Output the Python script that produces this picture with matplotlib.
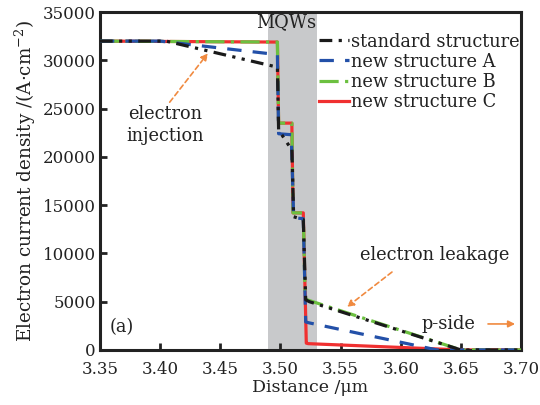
import matplotlib
matplotlib.use("Agg")
import matplotlib.pyplot as plt

plt.rcParams['font.family'] = ['DejaVu Serif']
plt.rcParams['mathtext.fontset'] = 'dejavuserif'

# Data
x_std = [3.35, 3.405, 3.4975, 3.4985, 3.508, 3.5095, 3.511, 3.519, 3.521, 3.524, 3.65, 3.70]
y_std = [32000, 32000, 29300, 22800, 21000, 21000, 13800, 13500, 5200, 5000, 0, 0]

x_a = [3.35, 3.40, 3.4975, 3.4985, 3.509, 3.511, 3.519, 3.521, 3.524, 3.63, 3.70]
y_a = [32000, 32000, 30600, 22400, 22300, 13700, 13600, 2900, 2800, 0, 0]

x_b = [3.35, 3.4975, 3.4985, 3.5095, 3.5105, 3.519, 3.5205, 3.522, 3.65, 3.70]
y_b = [32000, 31900, 23500, 23500, 14200, 14200, 5400, 5200, 0, 0]

x_c = [3.35, 3.4975, 3.4985, 3.5095, 3.5105, 3.519, 3.5215, 3.523, 3.65, 3.70]
y_c = [32000, 31900, 23500, 23500, 14200, 14200, 700, 650, 0, 0]

labels = ["standard structure", "new structure A", "new structure B", "new structure C"]
mqw_range = (3.49, 3.53)
xticks = [3.35, 3.40, 3.45, 3.50, 3.55, 3.60, 3.65, 3.70]
xtick_labels = ["3.35", "3.40", "3.45", "3.50", "3.55", "3.60", "3.65", "3.70"]
yticks = [0, 5000, 10000, 15000, 20000, 25000, 30000, 35000]
ytick_labels = ["0", "5000", "10000", "15000", "20000", "25000", "30000", "35000"]

fig = plt.figure(figsize=(5.4, 4.05), dpi=100)
ax = fig.add_axes([0.185, 0.136, 0.780, 0.834])

ax.axvspan(mqw_range[0], mqw_range[1], color='#c8c9cb', zorder=0, lw=0)

lw = 2.3
l1, = ax.plot(x_std, y_std, color='#1a1a1a', lw=lw, ls=(0, (4, 2, 1, 2, 1, 2)), zorder=5, label=labels[0])
l2, = ax.plot(x_a, y_a, color='#2350a8', lw=lw, ls=(0, (4.5, 3.5)), zorder=4, label=labels[1])
l3, = ax.plot(x_b, y_b, color='#6cc040', lw=lw, ls=(0, (6, 2, 1, 2)), zorder=3, label=labels[2])
l4, = ax.plot(x_c, y_c, color='#f03030', lw=lw, ls='-', zorder=2, label=labels[3])

ax.set_xlim(3.35, 3.70)
ax.set_ylim(0, 35000)
ax.set_xticks(xticks)
ax.set_xticklabels(xtick_labels)
ax.set_yticks(yticks)
ax.set_yticklabels(ytick_labels)
ax.tick_params(direction='in', length=5, width=2, labelsize=12, colors='#222222', pad=3)
ax.tick_params(axis='x', pad=8)
for s in ax.spines.values():
    s.set_linewidth(2.2)
    s.set_color('#222222')

ax.set_xlabel('Distance /μm', fontsize=12.5, color='#222222', labelpad=1)
ax.set_ylabel('Electron current density /(A·cm$^{-2}$)', fontsize=13.2, color='#222222', labelpad=3)

leg = ax.legend(handles=[l1, l2, l3, l4], loc='upper right', bbox_to_anchor=(1.0, 0.945),
                frameon=False, fontsize=12.8, handlelength=1.7, handletextpad=0.1,
                labelspacing=0.12, borderpad=0.1, borderaxespad=0.0)
for t in leg.get_texts():
    t.set_color('#222222')

orange = '#f08a40'
fs = 12.8
ax.text(3.5046, 33950, 'MQWs', ha='center', va='center', fontsize=fs, color='#222222')
ax.text(3.404, 23300, 'electron\ninjection', ha='center', va='center', fontsize=fs,
        color='#222222', linespacing=1.25)
ax.annotate('', xy=(3.4398, 30740), xytext=(3.408, 25670),
            arrowprops=dict(arrowstyle='-|>', color=orange, lw=1.2, ls=(0, (3, 2)),
                            mutation_scale=10, shrinkA=0, shrinkB=0))
ax.text(3.6285, 9830, 'electron leakage', ha='center', va='center', fontsize=fs, color='#222222')
ax.annotate('', xy=(3.5553, 4450), xytext=(3.5927, 8070),
            arrowprops=dict(arrowstyle='-|>', color=orange, lw=1.2, ls=(0, (3, 2)),
                            mutation_scale=10, shrinkA=0, shrinkB=0))
ax.text(3.6393, 2690, 'p-side', ha='center', va='center', fontsize=fs, color='#222222')
ax.annotate('', xy=(3.695, 2690), xytext=(3.6725, 2690),
            arrowprops=dict(arrowstyle='-|>', color=orange, lw=1.2,
                            mutation_scale=10, shrinkA=0, shrinkB=0))
ax.text(3.368, 2380, '(a)', ha='center', va='center', fontsize=fs, color='#222222')

fig.savefig('out.png', dpi=100)
